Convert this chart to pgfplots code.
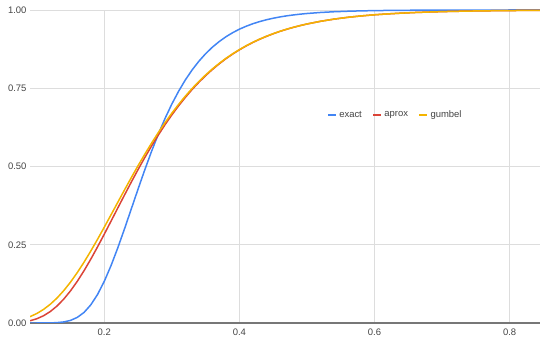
\documentclass[border=0pt]{standalone}
\usepackage{fontspec}
\setmainfont{Liberation Sans}
\usepackage{pgfplots}
\usepackage{pgfplotstable}
\pgfplotsset{compat=1.18}
\definecolor{gblue}{HTML}{4285F4}
\definecolor{gred}{HTML}{DB4437}
\definecolor{gyellow}{HTML}{F4B400}
\definecolor{gridc}{HTML}{DDDDDD}
\definecolor{basec}{HTML}{777777}
\definecolor{labc}{HTML}{444444}

\pgfplotstableread{
x exact aprox gumbel
0.09 0.0000 0.0071 0.0202
0.10 0.0000 0.0135 0.0302
0.11 0.0001 0.0231 0.0433
0.12 0.0003 0.0366 0.0598
0.13 0.0012 0.0542 0.0798
0.14 0.0034 0.0764 0.1035
0.15 0.0083 0.1028 0.1307
0.16 0.0179 0.1332 0.1611
0.17 0.0338 0.1671 0.1943
0.18 0.0580 0.2039 0.2300
0.19 0.0911 0.2432 0.2675
0.20 0.1333 0.2839 0.3063
0.21 0.1836 0.3256 0.3459
0.22 0.2403 0.3676 0.3858
0.23 0.3014 0.4093 0.4255
0.24 0.3647 0.4504 0.4646
0.25 0.4281 0.4904 0.5027
0.26 0.4898 0.5289 0.5394
0.27 0.5487 0.5657 0.5748
0.28 0.6036 0.6007 0.6085
0.29 0.6540 0.6339 0.6404
0.30 0.6996 0.6649 0.6704
0.31 0.7404 0.6939 0.6985
0.32 0.7767 0.7209 0.7248
0.33 0.8085 0.7460 0.7492
0.34 0.8363 0.7691 0.7717
0.35 0.8604 0.7903 0.7925
0.36 0.8812 0.8099 0.8117
0.37 0.8990 0.8278 0.8293
0.38 0.9144 0.8443 0.8454
0.39 0.9275 0.8592 0.8601
0.40 0.9387 0.8727 0.8735
0.41 0.9481 0.8851 0.8858
0.42 0.9562 0.8964 0.8969
0.43 0.9630 0.9066 0.9070
0.44 0.9688 0.9157 0.9161
0.45 0.9737 0.9241 0.9244
0.46 0.9778 0.9317 0.9319
0.47 0.9813 0.9385 0.9387
0.48 0.9842 0.9446 0.9448
0.49 0.9867 0.9502 0.9503
0.50 0.9888 0.9552 0.9553
0.52 0.9921 0.9639 0.9639
0.54 0.9944 0.9708 0.9708
0.56 0.9960 0.9765 0.9765
0.58 0.9972 0.9810 0.9810
0.60 0.9980 0.9847 0.9847
0.62 0.9986 0.9876 0.9876
0.64 0.9990 0.9900 0.9900
0.66 0.9993 0.9920 0.9920
0.68 0.9995 0.9935 0.9935
0.70 0.9996 0.9948 0.9948
0.72 0.9997 0.9958 0.9958
0.74 0.9998 0.9966 0.9966
0.76 0.9999 0.9973 0.9973
0.78 0.9999 0.9978 0.9978
0.80 1.0000 0.9982 0.9982
0.82 1.0000 0.9986 0.9986
0.84 1.0000 0.9989 0.9989
0.85 1.0000 0.9990 0.9990
}\data

\begin{document}
\begin{tikzpicture}
\begin{axis}[
  at={(0,0)}, anchor=south west,
  scale only axis, width=510bp, height=313bp,
  xmin=0.09, xmax=0.845, ymin=0, ymax=1,
  xtick={0.2,0.4,0.6,0.8}, xticklabels={0.2,0.4,0.6,0.8},
  ytick={0,0.25,0.5,0.75,1}, yticklabels={0.00,0.25,0.50,0.75,1.00},
  grid=major, grid style={gridc, line width=0.8bp},
  axis line style={draw=none},
  major tick length=0pt,
  tick label style={font=\fontsize{9.5}{11}\selectfont, text=labc},
  xticklabel style={yshift=-2bp},
  extra y ticks={0}, extra y tick labels={},
  extra y tick style={grid style={basec, line width=1.5bp}},
  legend columns=3,
  legend style={draw=none, fill=none, at={(0.716,0.665)}, anchor=center,
    font=\fontsize{9.5}{11}\selectfont, text=labc,
    /tikz/every even column/.append style={column sep=8bp}},
  legend image code/.code={\draw[line width=2.5bp] (0bp,0bp) -- (8bp,0bp);},
]
\addplot[gblue, line width=1.5bp, no marks] table[x=x, y=exact]{\data};
\addlegendentry{exact}
\addplot[gred, line width=1.5bp, no marks] table[x=x, y=aprox]{\data};
\addlegendentry{aprox}
\addplot[gyellow, line width=1.5bp, no marks] table[x=x, y=gumbel]{\data};
\addlegendentry{gumbel}
\end{axis}
\pgfresetboundingbox
\path[use as bounding box] (-30bp,-18bp) rectangle (510bp,323bp);
\end{tikzpicture}
\end{document}
